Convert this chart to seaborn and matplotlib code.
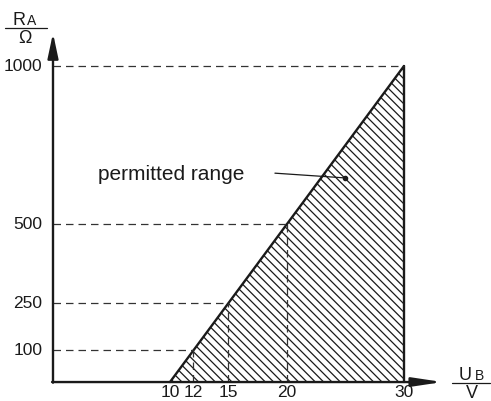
import matplotlib
matplotlib.use("Agg")
import matplotlib.pyplot as plt
import seaborn as sns
import pandas as pd

# boundary of the permitted range (U_B in V, R_A in Ohm)
u_b = [10, 12, 15, 20, 30]
r_a = [0, 100, 250, 500, 1000]

x_ticks = [10, 12, 15, 20, 30]
y_ticks = [100, 250, 500, 1000]

INK = "#1a1a1a"

sns.set_style("white")
plt.rcParams["font.family"] = ["Liberation Sans", "DejaVu Sans"]
plt.rcParams["hatch.linewidth"] = 0.9
plt.rcParams["hatch.color"] = INK

W, H = 491, 401
fig = plt.figure(figsize=(W / 100, H / 100), dpi=100)
ax = fig.add_axes([0, 0, 1, 1])
ax.set_xlim(-4.53, 37.44)
ax.set_ylim(-60, 1209)
ax.axis("off")

df = pd.DataFrame({"U_B": u_b, "R_A": r_a})

# hatched permitted area
ax.fill_between(df["U_B"], 0, df["R_A"], facecolor="none", edgecolor=INK,
                hatch="\\\\\\\\", linewidth=0)
sns.lineplot(data=df, x="U_B", y="R_A", color=INK, lw=1.7, ax=ax)
ax.plot([u_b[-1], u_b[-1]], [0, r_a[-1]], color=INK, lw=1.7)

# dashed guide lines
for u, r in zip(u_b[1:], r_a[1:]):
    ax.plot([0, u], [r, r], color="#333", lw=0.9, dashes=(6, 4))
    if u < u_b[-1]:
        ax.plot([u, u], [0, r], color="#333", lw=0.9, dashes=(6, 4))

# axes with arrows
ax.annotate("", xy=(0, 1104), xytext=(0, -2),
            arrowprops=dict(arrowstyle="-|>,head_length=1.5,head_width=0.32",
                            mutation_scale=10, color=INK, lw=1.7,
                            shrinkA=0, shrinkB=0))
ax.annotate("", xy=(33.3, 0), xytext=(-0.08, 0),
            arrowprops=dict(arrowstyle="-|>,head_length=1.8,head_width=0.27",
                            mutation_scale=10, color=INK, lw=1.7,
                            shrinkA=0, shrinkB=0))

# tick labels
for r in y_ticks:
    ax.text(-0.9, r, str(r), ha="right", va="center", fontsize=12.5, color=INK)
for u in x_ticks:
    ax.text(u, -33, str(u), ha="center", va="center", fontsize=12.5, color=INK)

# axis labels as fractions
def px(x, y):
    return x / W, 1 - y / H

fig.text(*px(25, 25), "R", ha="right", va="baseline", fontsize=13, color=INK)
fig.text(*px(27, 25), "A", ha="left", va="baseline", fontsize=10, color=INK)
fig.add_artist(plt.Line2D([5 / W, 47 / W], [1 - 27.5 / H] * 2, color=INK, lw=0.9))
fig.text(*px(25, 43), "Ω", ha="center", va="baseline", fontsize=13, color=INK)

fig.text(*px(472, 380), "U", ha="right", va="baseline", fontsize=13, color=INK)
fig.text(*px(475, 380), "B", ha="left", va="baseline", fontsize=10, color=INK)
fig.add_artist(plt.Line2D([452 / W, 490 / W], [1 - 382.5 / H] * 2, color=INK, lw=0.9))
fig.text(*px(472, 398), "V", ha="center", va="baseline", fontsize=13, color=INK)

# annotation
ax.text(3.85, 658, "permitted range", ha="left", va="center", fontsize=15,
        color=INK)
ax.plot([18.97, 24.96], [661, 646], color=INK, lw=0.9)
ax.plot([24.96], [646], "o", color=INK, ms=3)

fig.savefig("out.png", dpi=100)
